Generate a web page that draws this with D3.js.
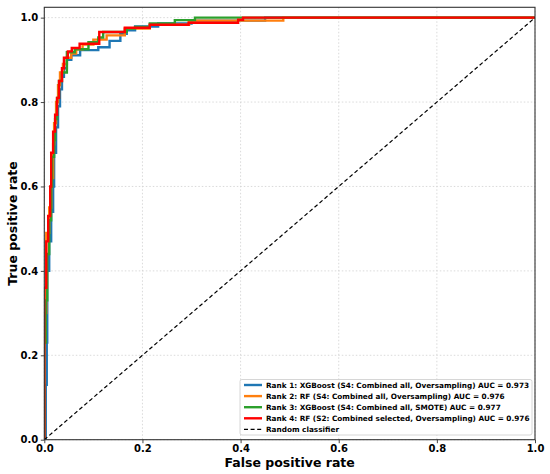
<!DOCTYPE html>
<html><head><meta charset="utf-8">
<script src="https://cdn.jsdelivr.net/npm/d3@7"></script>
<style>
body{margin:0;background:#fff;}
svg{display:block;font-family:"DejaVu Sans",sans-serif;}
</style></head>
<body><svg id="c" width="550" height="474"></svg>
<script>
const seriesNames = [
  "Rank 1: XGBoost (S4: Combined all, Oversampling) AUC = 0.973",
  "Rank 2: RF (S4: Combined all, Oversampling) AUC = 0.976",
  "Rank 3: XGBoost (S4: Combined all, SMOTE) AUC = 0.977",
  "Rank 4: RF (S2: Combined selected, Oversampling) AUC = 0.976"
];
const baselineName = "Random classifier";
const seriesColors = ["#1f77b4","#ff7f0e","#2ca02c","#ff0000"];
const xTicks = [0,0.2,0.4,0.6,0.8,1.0];
const yTicks = [0,0.2,0.4,0.6,0.8,1.0];
const xLabel = "False positive rate";
const yLabel = "True positive rate";

// ROC corner points [fpr, tpr]
const rocXGBoostOver = [[0,0],[0.003,0.13],[0.005,0.23],[0.006,0.40],[0.010,0.47],[0.014,0.54],[0.018,0.60],[0.020,0.68],[0.024,0.74],[0.028,0.79],[0.032,0.83],[0.036,0.86],[0.040,0.88],[0.046,0.90],[0.055,0.911],[0.073,0.923],[0.110,0.930],[0.133,0.945],[0.155,0.962],[0.168,0.970],[0.185,0.979],[0.232,0.986],[0.300,0.993],[0.450,1.0],[1,1]];
const rocRFOver = [[0,0],[0,0.30],[0.004,0.49],[0.010,0.55],[0.014,0.62],[0.018,0.70],[0.020,0.75],[0.024,0.80],[0.028,0.84],[0.032,0.87],[0.038,0.89],[0.046,0.905],[0.055,0.915],[0.065,0.925],[0.078,0.936],[0.100,0.948],[0.127,0.958],[0.164,0.974],[0.215,0.983],[0.295,0.993],[0.487,1.0],[1,1]];
const rocXGBoostSmote = [[0,0],[0,0.23],[0.003,0.33],[0.006,0.44],[0.010,0.52],[0.014,0.60],[0.016,0.67],[0.020,0.71],[0.022,0.76],[0.026,0.81],[0.030,0.85],[0.036,0.87],[0.046,0.918],[0.062,0.925],[0.090,0.942],[0.110,0.953],[0.120,0.966],[0.168,0.974],[0.185,0.978],[0.215,0.986],[0.266,0.994],[0.307,1.0],[1,1]];
const rocRFSelected = [[0,0],[0,0.36],[0.004,0.47],[0.008,0.53],[0.012,0.60],[0.014,0.68],[0.018,0.73],[0.022,0.77],[0.026,0.81],[0.030,0.85],[0.036,0.88],[0.040,0.905],[0.048,0.92],[0.056,0.928],[0.072,0.938],[0.112,0.966],[0.164,0.976],[0.215,0.983],[0.294,0.988],[0.395,0.995],[0.405,1.0],[1,1]];
const seriesData = [rocXGBoostOver, rocRFOver, rocXGBoostSmote, rocRFSelected];
const baseline = [[0,0],[1,1]];

const svg = d3.select("#c");
const L=44.3, R=535, T=7.3, B=439.7;
const x = d3.scaleLinear().domain([0,1]).range([L,R]);
const y = d3.scaleLinear().domain([0,1.0245]).range([B,T]);

// grid
const g = svg.append("g");
g.selectAll(".gx").data(xTicks).join("line")
  .attr("x1",d=>x(d)).attr("x2",d=>x(d)).attr("y1",T).attr("y2",B)
  .attr("stroke","#d0d0d0").attr("stroke-width",0.8).attr("stroke-dasharray","1.5,2");
g.selectAll(".gy").data(yTicks).join("line")
  .attr("y1",d=>y(d)).attr("y2",d=>y(d)).attr("x1",L).attr("x2",R)
  .attr("stroke","#d0d0d0").attr("stroke-width",0.8).attr("stroke-dasharray","1.5,2");

// clip
svg.append("clipPath").attr("id","clip").append("rect")
  .attr("x",L).attr("y",T).attr("width",R-L).attr("height",B-T);

const plot = svg.append("g").attr("clip-path","url(#clip)");
const line = d3.line().x(d=>x(d[0])).y(d=>y(d[1])).curve(d3.curveStepAfter);
seriesData.forEach((s,i)=>{
  plot.append("path").datum(s).attr("d",line)
    .attr("fill","none").attr("stroke",seriesColors[i]).attr("stroke-width",2.4)
    .attr("stroke-linejoin","miter");
});
plot.append("path").datum(baseline)
  .attr("d",d3.line().x(d=>x(d[0])).y(d=>y(d[1])))
  .attr("fill","none").attr("stroke","#000").attr("stroke-width",1.2).attr("stroke-dasharray","4,2.6");

// frame
svg.append("rect").attr("x",L).attr("y",T).attr("width",R-L).attr("height",B-T)
  .attr("fill","none").attr("stroke","#333").attr("stroke-width",1.1);

// axes
const xa = svg.append("g").attr("transform",`translate(0,${B})`)
  .call(d3.axisBottom(x).tickValues(xTicks).tickFormat(d3.format(".1f")).tickSize(3.5).tickPadding(2));
const ya = svg.append("g").attr("transform",`translate(${L},0)`)
  .call(d3.axisLeft(y).tickValues(yTicks).tickFormat(d3.format(".1f")).tickSize(3.5).tickPadding(2.5));
[xa,ya].forEach(a=>{
  a.select(".domain").remove();
  a.selectAll(".tick line").attr("stroke","#333").attr("stroke-width",0.9);
  a.selectAll(".tick text").attr("fill","#000").style("font-family","DejaVu Sans")
    .style("font-size","10px").style("font-weight","bold");
});

svg.append("text").attr("x",(L+R)/2).attr("y",467).attr("text-anchor","middle")
  .style("font-size","12.5px").style("font-weight","bold").text(xLabel);
svg.append("text").attr("transform",`translate(17,${(T+B)/2}) rotate(-90)`).attr("text-anchor","middle")
  .style("font-size","12.5px").style("font-weight","bold").text(yLabel);

// legend
const lg = svg.append("g");
lg.append("rect").attr("x",240).attr("y",379.5).attr("width",292).attr("height",55.5)
  .attr("rx",2).attr("fill","#fff").attr("fill-opacity",0.85).attr("stroke","#cccccc").attr("stroke-width",0.8);
const entries = seriesNames.map((n,i)=>({name:n,color:seriesColors[i],dash:null}))
  .concat([{name:baselineName,color:"#000",dash:"4,2.6"}]);
entries.forEach((e,i)=>{
  const cy = 385 + i*11.1;
  lg.append("line").attr("x1",244).attr("x2",262).attr("y1",cy).attr("y2",cy)
    .attr("stroke",e.color).attr("stroke-width",e.dash?1.2:2.4).attr("stroke-dasharray",e.dash);
  lg.append("text").attr("x",266).attr("y",cy).attr("dy","0.35em")
    .style("font-size","7.3px").style("font-weight","bold").text(e.name);
});
</script></body></html>
